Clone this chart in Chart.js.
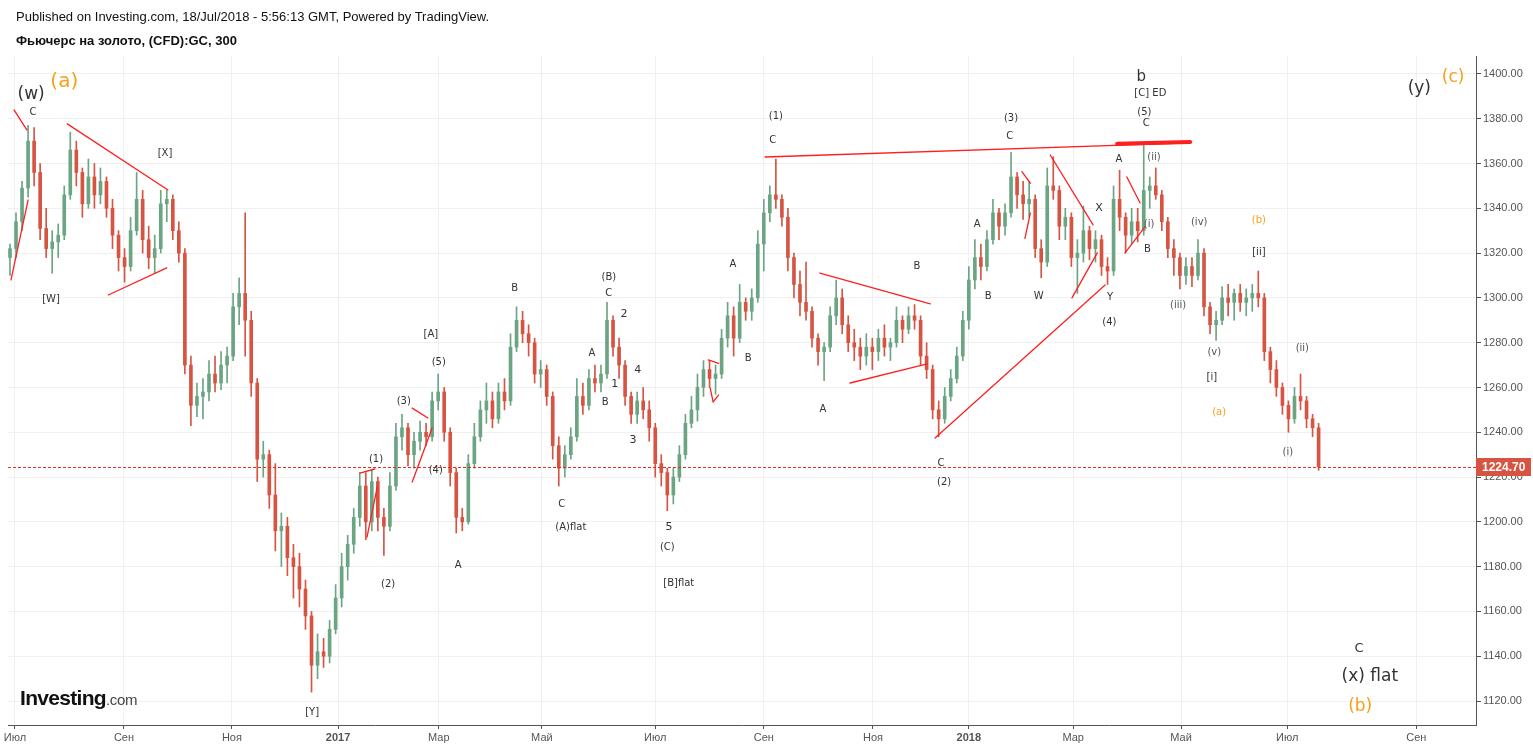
<!DOCTYPE html>
<html>
<head>
<meta charset="utf-8">
<script src="https://cdn.jsdelivr.net/npm/chart.js@4.4.1/dist/chart.umd.min.js"></script>
<style>
html, body { margin: 0; padding: 0; background: #fff; overflow: hidden; }
#wrap { position: relative; width: 1533px; height: 749px; }
#c { position: absolute; left: 0; top: 0; }
.hdr { position: absolute; left: 16px; font-family: "Liberation Sans", Arial, sans-serif; font-size: 13px; color: #111; white-space: nowrap; }
#logo { position: absolute; left: 20px; top: 686px; font-family: "Liberation Sans", Arial, sans-serif; white-space: nowrap; }
#logo b { font-size: 21px; letter-spacing: -0.7px; color: #111; }
#logo span { font-size: 15px; color: #444; letter-spacing: -0.3px; }
</style>
</head>
<body>
<div id="wrap">
  <canvas id="c" width="1533" height="749"></canvas>
  <div class="hdr" style="top:9px">Published on Investing.com, 18/Jul/2018 - 5:56:13 GMT, Powered by TradingView.</div>
  <div class="hdr" style="top:33px;font-weight:bold">Фьючерс на золото, (CFD):GC, 300</div>
  <div id="logo"><b>Investing</b><span>.com</span></div>
</div>
<script>
// candles, roughly two per week, Jul 2016 - 18 Jul 2018
const candleOpen = [
  1318,1322,1334,1349,1370,1356,1331,1322,1325,1328,
  1346,1366,1356,1342,1354,1346,1352,1340,1328,1318,
  1314,1330,1344,1326,1318,1322,1342,1344,1330,1320,
  1270,1252,1256,1258,1266,1262,1270,1274,1296,1302,
  1290,1262,1228,1230,1212,1196,1198,1184,1180,1170,
  1158,1136,1142,1140,1152,1166,1180,1190,1202,1216,
  1200,1218,1202,1198,1216,1238,1242,1230,1236,1240,
  1238,1254,1258,1240,1222,1202,1200,1226,1238,1250,
  1254,1246,1258,1254,1278,1290,1284,1280,1266,1268,
  1256,1234,1224,1230,1238,1256,1252,1264,1262,1266,
  1290,1278,1270,1256,1248,1254,1250,1242,1226,1222,
  1212,1220,1230,1244,1250,1260,1268,1264,1266,1282,
  1292,1282,1298,1294,1300,1324,1338,1346,1344,1336,
  1318,1306,1298,1294,1282,1276,1278,1292,1300,1288,
  1280,1278,1274,1278,1276,1282,1278,1280,1290,1286,
  1292,1290,1274,1268,1250,1246,1256,1264,1274,1290,
  1308,1318,1314,1326,1338,1332,1338,1354,1346,1342,
  1344,1322,1316,1350,1348,1332,1336,1318,1320,1330,
  1322,1326,1314,1312,1344,1336,1328,1334,1330,1348,
  1350,1346,1334,1322,1318,1310,1314,1310,1320,1296,
  1288,1290,1300,1298,1302,1298,1300,1302,1300,1276,
  1268,1260,1252,1246,1256,1254,1246,1242
];
const candleHigh = [
  1324,1338,1352,1377,1376,1360,1340,1330,1333,1350,
  1374,1370,1358,1362,1360,1358,1354,1344,1330,1322,
  1336,1356,1348,1332,1328,1348,1348,1346,1334,1322,
  1274,1262,1264,1272,1274,1276,1278,1302,1309,1338,
  1294,1264,1236,1232,1226,1204,1202,1190,1186,1174,
  1160,1150,1148,1156,1172,1186,1194,1206,1222,1222,
  1223,1220,1206,1222,1244,1248,1244,1240,1245,1244,
  1258,1266,1260,1242,1224,1206,1230,1244,1254,1262,
  1258,1262,1264,1284,1296,1294,1288,1282,1272,1270,
  1258,1238,1234,1242,1264,1262,1268,1270,1270,1298,
  1292,1282,1272,1258,1258,1260,1254,1244,1230,1224,
  1224,1234,1248,1256,1266,1272,1272,1270,1286,1298,
  1296,1306,1300,1304,1330,1344,1350,1362,1346,1340,
  1320,1312,1316,1296,1284,1280,1296,1308,1304,1292,
  1286,1282,1284,1282,1286,1288,1282,1296,1292,1296,
  1297,1292,1280,1270,1254,1260,1268,1278,1294,1314,
  1326,1324,1330,1344,1340,1342,1365,1356,1352,1352,
  1346,1326,1358,1363,1350,1340,1338,1326,1341,1332,
  1330,1328,1318,1350,1357,1338,1340,1340,1369,1354,
  1358,1348,1336,1326,1320,1318,1318,1326,1322,1298,
  1294,1305,1306,1304,1306,1304,1306,1312,1302,1278,
  1272,1262,1254,1260,1266,1256,1248,1244
];
const candleLow = [
  1310,1318,1330,1345,1350,1326,1318,1311,1318,1326,
  1344,1350,1336,1340,1340,1342,1336,1322,1312,1307,
  1312,1328,1320,1313,1311,1320,1334,1326,1316,1266,
  1243,1247,1246,1254,1258,1259,1262,1272,1288,1274,
  1256,1218,1220,1206,1187,1180,1176,1166,1162,1152,
  1124,1130,1135,1137,1150,1162,1174,1186,1198,1192,
  1196,1196,1185,1196,1214,1232,1225,1224,1232,1234,
  1236,1250,1236,1216,1195,1196,1199,1224,1236,1244,
  1242,1244,1250,1252,1276,1280,1274,1262,1260,1252,
  1228,1216,1220,1228,1236,1248,1250,1258,1258,1264,
  1274,1264,1252,1244,1244,1246,1236,1220,1216,1205,
  1208,1218,1228,1242,1245,1256,1260,1257,1264,1278,
  1274,1280,1290,1290,1298,1312,1334,1340,1332,1312,
  1300,1292,1290,1278,1270,1263,1276,1288,1284,1276,
  1272,1268,1270,1268,1272,1274,1272,1278,1280,1284,
  1286,1270,1264,1246,1238,1244,1254,1262,1272,1286,
  1304,1308,1312,1324,1326,1328,1336,1340,1335,1336,
  1318,1309,1314,1344,1326,1326,1314,1302,1316,1317,
  1316,1310,1306,1310,1330,1320,1324,1325,1328,1340,
  1344,1330,1318,1310,1304,1306,1305,1308,1292,1284,
  1281,1288,1292,1290,1294,1292,1294,1296,1272,1262,
  1256,1248,1240,1244,1250,1242,1238,1223
];
const candleClose = [
  1322,1334,1349,1370,1356,1331,1322,1325,1328,1346,
  1366,1356,1342,1354,1346,1352,1340,1328,1318,1314,
  1330,1344,1326,1318,1322,1342,1344,1330,1320,1270,
  1252,1256,1258,1266,1262,1270,1274,1296,1302,1290,
  1262,1228,1230,1212,1196,1198,1184,1180,1170,1158,
  1136,1142,1140,1152,1166,1180,1190,1202,1216,1200,
  1218,1202,1198,1216,1238,1242,1230,1236,1240,1238,
  1254,1258,1240,1222,1202,1200,1226,1238,1250,1254,
  1246,1258,1254,1278,1290,1284,1280,1266,1268,1256,
  1234,1224,1230,1238,1256,1252,1264,1262,1266,1290,
  1278,1270,1256,1248,1254,1250,1242,1226,1222,1212,
  1220,1230,1244,1250,1260,1268,1264,1266,1282,1292,
  1282,1298,1294,1300,1324,1338,1346,1344,1336,1318,
  1306,1298,1294,1282,1276,1278,1292,1300,1288,1280,
  1278,1274,1278,1276,1282,1278,1280,1290,1286,1292,
  1290,1274,1268,1250,1246,1256,1264,1274,1290,1308,
  1318,1314,1326,1338,1332,1338,1354,1346,1342,1344,
  1322,1316,1350,1348,1332,1336,1318,1320,1330,1322,
  1326,1314,1312,1344,1336,1328,1334,1330,1348,1350,
  1346,1334,1322,1318,1310,1314,1310,1320,1296,1288,
  1290,1300,1298,1302,1298,1300,1302,1300,1276,1268,
  1260,1252,1246,1256,1254,1246,1242,1224.7
];
const lastPrice = 1224.70;

// month ticks, placed on the candle index scale
const tickNames = ['Июл','Сен','Ноя','2017','Мар','Май','Июл','Сен','Ноя','2018','Мар','Май','Июл','Сен'];
const tickIdx = [0.83,18.9,36.8,54.4,71.1,88.2,107.0,125.0,143.1,159.0,176.3,194.2,211.8,233.2];

// wave count labels: [text, candle index, price, size, colour]
const waveLabels = [
  ['(w)',3.5,1390.6,17,'#333'], ['(a)',9.0,1396.4,20,'#f7a01c'], ['C',3.8,1382.6,10,'#333'],
  ['[X]',25.7,1364.7,10,'#333'], ['[W]',6.8,1299.1,10,'#333'], ['[Y]',50.1,1115.0,10,'#333'],
  ['(1)',60.7,1228.0,10,'#333'], ['(2)',62.7,1172.2,10,'#333'], ['(3)',65.3,1254.0,10,'#333'],
  ['(4)',70.6,1223.1,10,'#333'], ['(5)',71.1,1271.4,10,'#333'], ['[A]',69.8,1283.9,10,'#333'],
  ['A',74.3,1180.7,10,'#333'], ['B',83.7,1304.4,10,'#333'], ['C',91.5,1208.0,10,'#333'],
  ['(A)flat',93.0,1197.7,10,'#333'], ['A',96.5,1275.4,10,'#333'], ['B',98.7,1253.5,10,'#333'],
  ['(B)',99.3,1309.3,10,'#333'], ['C',99.3,1302.2,10,'#333'], ['2',101.8,1292.8,11,'#333'],
  ['1',100.3,1261.5,11,'#333'], ['4',104.1,1267.8,11,'#333'], ['3',103.3,1236.5,11,'#333'],
  ['5',109.3,1197.7,11,'#333'], ['(C)',109.0,1188.7,10,'#333'], ['[B]flat',110.9,1172.7,10,'#333'],
  ['A',119.9,1315.1,10,'#333'], ['B',122.4,1273.2,10,'#333'], ['(1)',127.0,1381.2,10,'#333'],
  ['C',126.5,1370.5,10,'#333'], ['A',134.8,1250.4,10,'#333'], ['B',150.4,1314.2,10,'#333'],
  ['C',154.4,1226.3,10,'#333'], ['(2)',154.9,1217.8,10,'#333'], ['A',160.4,1333.0,10,'#333'],
  ['B',162.2,1300.8,10,'#333'], ['(3)',166.0,1380.3,10,'#333'], ['C',165.8,1371.9,10,'#333'],
  ['W',170.6,1300.8,10,'#333'], ['X',180.6,1340.2,11,'#333'], ['Y',182.4,1300.0,10,'#333'],
  ['(4)',182.3,1289.2,10,'#333'], ['A',183.9,1362.0,10,'#333'], ['B',188.6,1321.8,10,'#333'],
  ['b',187.6,1398.7,15,'#333'], ['[C] ED',189.1,1391.5,10,'#333'], ['(5)',188.1,1383.0,10,'#333'],
  ['C',188.4,1377.7,10,'#333'], ['(ii)',189.7,1362.9,10,'#555'], ['(i)',188.9,1333.0,10,'#555'],
  ['(iv)',197.2,1333.9,10,'#555'], ['(iii)',193.7,1296.8,10,'#555'], ['(v)',199.7,1275.8,10,'#555'],
  ['[i]',199.3,1264.7,10,'#333'], ['(a)',200.5,1249.0,10,'#f7a01c'], ['(b)',207.1,1334.8,10,'#f7a01c'],
  ['[ii]',207.1,1320.1,10,'#333'], ['(ii)',214.3,1277.6,10,'#555'], ['(i)',211.9,1231.2,10,'#555'],
  ['(y)',233.7,1393.3,17,'#333'], ['(c)',239.3,1398.2,17,'#f7a01c'], ['C',223.7,1143.2,13,'#333'],
  ['(x) flat',225.5,1130.7,17,'#333'], ['(b)',223.9,1117.7,17,'#f7a01c']
];

// red trend lines: [index1, price1, index2, price2, width]
const waveLines = [
  [0.17,1308,3.0,1343.7,1.3], [0.66,1383.9,2.8,1375.0,1.3],
  [9.5,1377.7,26.2,1348.2,1.3], [16.3,1301.3,26.0,1313.4,1.3],
  [58.0,1221.8,60.5,1223.6,1.3], [59.2,1193.2,60.9,1215.5,1.3],
  [66.7,1250.8,69.3,1246.4,1.3], [66.7,1217.8,70.0,1241.9,1.3],
  [115.8,1272.3,117.5,1270.8,1.3], [116.1,1259.8,116.6,1253.6,1.3], [116.6,1253.6,117.5,1256.6,1.3],
  [125.2,1362.9,195.7,1369.2,1.3], [183.6,1368.8,195.7,1369.6,4],
  [134.3,1311.1,152.6,1297.3,1.3], [139.3,1262.0,152.1,1270.5,1.3],
  [153.4,1237.4,181.6,1305.8,1.3],
  [172.5,1363.8,179.6,1332.6,1.3], [176.1,1300.0,180.3,1320.1,1.3],
  [167.8,1356.4,169.2,1351.2,1.3], [168.3,1326.6,169.2,1337.8,1.3],
  [185.2,1354.0,187.4,1342.4,1.3], [184.9,1320.1,188.2,1331.7,1.3]
];

const UP = '#6ba583';
const DOWN = '#d75442';
const candleColor = candleClose.map((c, i) => c >= candleOpen[i] ? UP : DOWN);

const wickData = candleClose.map((c, i) => ({ x: i, y: [candleLow[i], candleHigh[i]] }));
const bodyData = candleClose.map((c, i) => ({ x: i, y: [Math.min(candleOpen[i], c), Math.max(candleOpen[i], c)] }));

const wavePlugin = {
    id: 'waves',
    afterDatasetsDraw: function(chart) {
        const { ctx, chartArea } = chart;
        const xs = chart.scales.x, ys = chart.scales.y;
        ctx.save();
        ctx.beginPath();
        ctx.rect(chartArea.left, chartArea.top, chartArea.right - chartArea.left, chartArea.bottom - chartArea.top);
        ctx.clip();

        // last price dotted line
        const py = Math.round(ys.getPixelForValue(lastPrice)) + 0.5;
        ctx.strokeStyle = '#e0301e';
        ctx.lineWidth = 1;
        ctx.setLineDash([3, 2]);
        ctx.beginPath();
        ctx.moveTo(chartArea.left, py);
        ctx.lineTo(chartArea.right, py);
        ctx.stroke();
        ctx.setLineDash([]);

        ctx.strokeStyle = '#ff1f1f';
        ctx.lineCap = 'round';
        waveLines.forEach(l => {
            ctx.lineWidth = l[4];
            ctx.beginPath();
            ctx.moveTo(xs.getPixelForValue(l[0]), ys.getPixelForValue(l[1]));
            ctx.lineTo(xs.getPixelForValue(l[2]), ys.getPixelForValue(l[3]));
            ctx.stroke();
        });
        ctx.restore();

        ctx.save();
        ctx.textAlign = 'center';
        ctx.textBaseline = 'middle';
        waveLabels.forEach(t => {
            ctx.font = t[3] + 'px "DejaVu Sans", Verdana, sans-serif';
            ctx.fillStyle = t[4];
            ctx.fillText(t[0], xs.getPixelForValue(t[1]), ys.getPixelForValue(t[2]));
        });
        ctx.restore();
    },
    afterDraw: function(chart) {
        // price tag on the right axis
        const { ctx, chartArea } = chart;
        const py = Math.round(chart.scales.y.getPixelForValue(lastPrice));
        ctx.save();
        ctx.fillStyle = DOWN;
        ctx.fillRect(chartArea.right, py - 9, 55, 18);
        ctx.fillStyle = '#fff';
        ctx.font = 'bold 12px "Liberation Sans", Arial, sans-serif';
        ctx.textBaseline = 'middle';
        ctx.textAlign = 'left';
        ctx.fillText(lastPrice.toFixed(2), chartArea.right + 6, py + 1);
        ctx.restore();
    }
};

new Chart(document.getElementById('c'), {
    type: 'bar',
    data: {
        datasets: [
            { data: wickData, backgroundColor: candleColor, barThickness: 1, grouped: false },
            { data: bodyData, backgroundColor: candleColor, barThickness: 3, grouped: false }
        ]
    },
    options: {
        responsive: false,
        animation: false,
        devicePixelRatio: 1,
        layout: { padding: { left: 8, top: 56, right: 0, bottom: 0 } },
        plugins: { legend: { display: false }, tooltip: { enabled: false } },
        scales: {
            x: {
                type: 'linear',
                offset: false,
                min: -0.33,
                max: 243.1,
                afterFit: function(scale) { scale.height = 24; },
                afterBuildTicks: function(scale) { scale.ticks = tickIdx.map(v => ({ value: v })); },
                grid: { offset: false, color: '#f0f0f0', tickLength: 4, tickColor: '#555' },
                border: { color: '#555', width: 1 },
                ticks: {
                    autoSkip: false,
                    maxRotation: 0,
                    padding: 2,
                    color: '#555',
                    font: function(c) {
                        const bold = /^\d{4}$/.test(tickNames[c.index] || '');
                        return { family: '"Liberation Sans", Arial, sans-serif', size: 11, weight: bold ? 'bold' : 'normal' };
                    },
                    callback: function(value, index) { return tickNames[index]; }
                }
            },
            y: {
                position: 'right',
                min: 1109.3,
                max: 1408,
                afterFit: function(scale) { scale.width = 57; },
                grid: { color: '#f0f0f0', tickLength: 5, tickColor: '#555' },
                border: { color: '#555', width: 1 },
                ticks: {
                    stepSize: 20,
                    includeBounds: false,
                    padding: 2,
                    color: '#555',
                    font: { family: '"Liberation Sans", Arial, sans-serif', size: 11 },
                    callback: function(v) { return v.toFixed(2); }
                }
            }
        }
    },
    plugins: [wavePlugin]
});
</script>
</body>
</html>
